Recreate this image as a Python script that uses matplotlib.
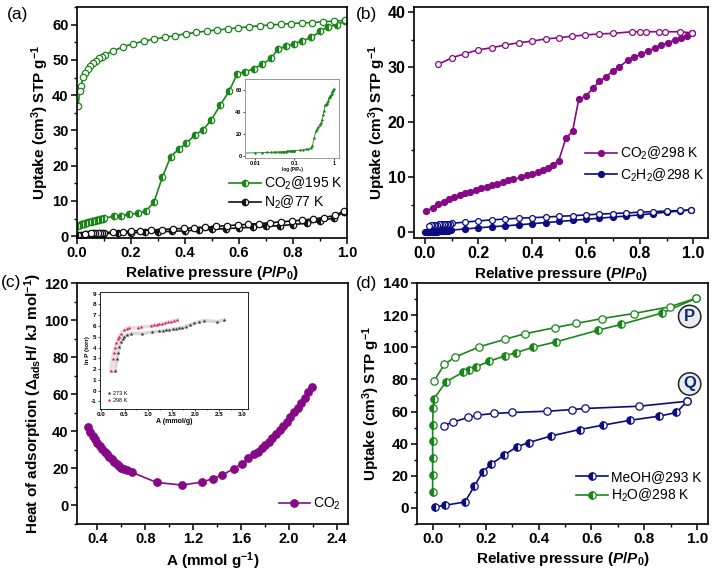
import matplotlib
matplotlib.use('Agg')
import matplotlib.pyplot as plt
from matplotlib.ticker import MultipleLocator

plt.rcParams['font.family'] = ['Liberation Sans', 'DejaVu Sans']
plt.rcParams['mathtext.fontset'] = 'custom'
plt.rcParams['mathtext.rm'] = 'Liberation Sans:bold'
plt.rcParams['mathtext.it'] = 'Liberation Sans:italic:bold'
plt.rcParams['mathtext.bf'] = 'Liberation Sans:bold'
plt.rcParams['mathtext.sf'] = 'Liberation Sans'

# ---------------- Panel (a) data ----------------
a_co2_ads_x = [0.005, 0.01, 0.015, 0.02, 0.025, 0.03, 0.035, 0.04, 0.045, 0.05, 0.055, 0.06, 0.065,
               0.07, 0.075, 0.08, 0.085, 0.09, 0.095, 0.1, 0.136, 0.163, 0.193, 0.225, 0.256, 0.285,
               0.316, 0.347, 0.379, 0.404, 0.438, 0.468, 0.498, 0.531, 0.563, 0.594, 0.623, 0.654,
               0.684, 0.719, 0.744, 0.774, 0.804, 0.835, 0.868, 0.901, 0.930, 0.963, 0.994]
a_co2_ads_y = [3.0, 3.2, 3.35, 3.5, 3.6, 3.7, 3.8, 3.9, 4.0, 4.1, 4.2, 4.3, 4.4, 4.5, 4.6, 4.7, 4.8,
               4.9, 5.0, 5.2, 5.6, 5.8, 6.2, 6.5, 7.2, 9.7, 16.7, 22.6, 24.8, 26.3, 28.8, 30.2, 33.1,
               37.2, 41.1, 46.1, 46.7, 47.4, 48.7, 50.4, 53.1, 53.8, 54.6, 55.4, 56.4, 58.1, 59.4,
               60.0, 61.0]
a_co2_des_x = [0.994, 0.951, 0.911, 0.872, 0.832, 0.793, 0.754, 0.715, 0.676, 0.637, 0.598, 0.559,
               0.520, 0.481, 0.442, 0.403, 0.364, 0.325, 0.286, 0.247, 0.208, 0.170, 0.135, 0.104,
               0.093, 0.081, 0.070, 0.059, 0.049, 0.040, 0.031, 0.022, 0.016, 0.010, 0.004]
a_co2_des_y = [61.2, 61.0, 60.8, 60.6, 60.5, 60.3, 60.1, 59.9, 59.7, 59.4, 59.1, 58.8, 58.5, 58.2,
               57.8, 57.4, 56.9, 56.4, 55.9, 55.3, 54.6, 53.7, 52.6, 51.4, 50.9, 50.4, 49.7, 49.1,
               48.3, 47.5, 46.4, 45.1, 42.7, 41.1, 36.9]
a_n2_ads_x = [0.005, 0.015, 0.025, 0.035, 0.045, 0.055, 0.065, 0.075, 0.085, 0.095, 0.15, 0.2, 0.25,
              0.3, 0.35, 0.4, 0.45, 0.5, 0.55, 0.6, 0.65, 0.7, 0.75, 0.8, 0.85, 0.9, 0.95, 0.99]
a_n2_ads_y = [0.3, 0.4, 0.45, 0.5, 0.55, 0.6, 0.62, 0.65, 0.7, 0.75, 0.9, 1.0, 1.1, 1.25, 1.4, 1.55,
              1.75, 1.95, 2.15, 2.35, 2.55, 2.8, 3.0, 3.3, 3.7, 4.2, 5.2, 6.8]
a_n2_des_x = [0.99, 0.955, 0.915, 0.875, 0.835, 0.795, 0.755, 0.715, 0.675, 0.635, 0.595, 0.555,
              0.515, 0.475, 0.435, 0.395, 0.355, 0.315, 0.275, 0.235, 0.2, 0.17, 0.135, 0.1, 0.092,
              0.084, 0.076, 0.068, 0.06, 0.052, 0.03]
a_n2_des_y = [7.2, 5.9, 5.3, 4.9, 4.6, 4.3, 4.1, 3.8, 3.6, 3.4, 3.2, 3.0, 2.8, 2.6, 2.4, 2.2, 2.1,
              1.9, 1.8, 1.6, 1.5, 1.3, 1.2, 1.0, 1.0, 1.0, 0.95, 0.95, 0.9, 0.85, 0.6]
a_xticks = [0.0, 0.2, 0.4, 0.6, 0.8, 1.0]
a_yticks = [0, 10, 20, 30, 40, 50, 60]

# ---------------- Panel (b) data ----------------
b_co2_ads_x = [0.006, 0.029, 0.05, 0.07, 0.09, 0.11, 0.13, 0.15, 0.17, 0.19, 0.21, 0.23, 0.25, 0.27,
               0.29, 0.31, 0.33, 0.36, 0.38, 0.40, 0.42, 0.44, 0.46, 0.476, 0.498, 0.525, 0.55,
               0.573, 0.60, 0.625, 0.65, 0.675, 0.70, 0.724, 0.755, 0.78, 0.805, 0.83, 0.855, 0.88,
               0.905, 0.93, 0.955, 0.975, 0.995]
b_co2_ads_y = [3.9, 4.5, 5.1, 5.6, 6.0, 6.4, 6.8, 7.1, 7.4, 7.7, 8.0, 8.3, 8.6, 8.9, 9.2, 9.5, 9.7,
               10.0, 10.4, 10.7, 11.0, 11.4, 11.7, 12.3, 13.0, 17.1, 18.4, 24.2, 24.8, 26.2, 27.5,
               28.3, 29.4, 30.1, 31.3, 31.9, 32.4, 33.0, 33.5, 34.0, 34.5, 35.0, 35.4, 35.8, 36.2]
b_co2_des_x = [0.051, 0.103, 0.149, 0.199, 0.25, 0.30, 0.35, 0.40, 0.45, 0.498, 0.548, 0.598,
               0.647, 0.70, 0.77, 0.80, 0.825, 0.87, 0.895, 0.95, 0.995]
b_co2_des_y = [30.6, 31.8, 32.5, 33.2, 33.6, 34.1, 34.5, 34.8, 35.2, 35.4, 35.7, 35.9, 36.1, 36.2,
               36.5, 36.5, 36.5, 36.5, 36.5, 36.5, 36.3]
b_c2h2_ads_x = [0.002, 0.008, 0.014, 0.02, 0.026, 0.032, 0.038, 0.044, 0.05, 0.056, 0.062, 0.068,
                0.074, 0.08, 0.086, 0.092, 0.098, 0.15, 0.2, 0.25, 0.3, 0.35, 0.4, 0.45, 0.5, 0.55,
                0.6, 0.65, 0.7, 0.75, 0.8, 0.85, 0.9, 0.95, 0.99]
b_c2h2_ads_y = [0.0, 0.02, 0.05, 0.08, 0.1, 0.12, 0.15, 0.17, 0.2, 0.22, 0.25, 0.27, 0.3, 0.32, 0.35,
                0.38, 0.42, 0.65, 0.85, 1.05, 1.2, 1.4, 1.6, 1.8, 2.0, 2.2, 2.4, 2.6, 2.8, 3.0, 3.2,
                3.45, 3.7, 3.9, 4.1]
b_c2h2_des_x = [0.99, 0.95, 0.9, 0.85, 0.8, 0.75, 0.7, 0.65, 0.6, 0.55, 0.5, 0.45, 0.4, 0.35, 0.3,
                0.25, 0.2, 0.15, 0.1, 0.094, 0.088, 0.082, 0.076, 0.07, 0.064, 0.058, 0.052,
                0.046, 0.04, 0.034, 0.028, 0.022, 0.016]
b_c2h2_des_y = [4.1, 4.0, 3.9, 3.8, 3.7, 3.55, 3.45, 3.35, 3.2, 3.05, 2.95, 2.8, 2.7, 2.6, 2.45,
                2.3, 2.1, 1.9, 1.65, 1.63, 1.6, 1.58, 1.56, 1.54, 1.52, 1.5, 1.48, 1.45, 1.42, 1.38,
                1.34, 1.28, 1.15]
b_xticks = [0.0, 0.2, 0.4, 0.6, 0.8, 1.0]
b_yticks = [0, 10, 20, 30, 40]

# ---------------- Panel (c) data ----------------
c_x = [0.32, 0.34, 0.36, 0.38, 0.40, 0.42, 0.44, 0.46, 0.48, 0.50, 0.52, 0.54, 0.56, 0.58, 0.60,
       0.62, 0.645, 0.687, 0.896, 1.105, 1.27, 1.36, 1.44, 1.536, 1.606, 1.66, 1.71, 1.74, 1.77,
       1.80, 1.83, 1.86, 1.89, 1.92, 1.95, 1.98, 2.01, 2.04, 2.07, 2.10, 2.13, 2.16, 2.19]
c_y = [42.4, 39.7, 37.5, 35.6, 33.8, 32.1, 30.5, 29.0, 27.5, 26.1, 24.8, 23.5, 22.3, 21.2, 20.2,
       19.5, 19.0, 17.9, 12.4, 11.0, 12.6, 14.4, 16.4, 19.8, 22.5, 25.4, 27.5, 29.1, 30.8, 32.6,
       34.4, 36.3, 38.3, 40.5, 42.8, 45.2, 47.6, 50.2, 52.8, 55.4, 58.0, 61.0, 64.0]
c_xticks = [0.4, 0.8, 1.2, 1.6, 2.0, 2.4]
c_yticks = [0, 20, 40, 60, 80, 100, 120]
ci_273_x = [0.30, 0.34, 0.36, 0.39, 0.42, 0.46, 0.49, 0.55, 0.64, 0.88, 1.09, 1.24, 1.31, 1.38,
            1.45, 1.52, 1.59, 1.66, 1.73, 1.80, 1.89, 1.98, 2.08, 2.19, 2.47, 2.61]
ci_273_y = [1.83, 2.94, 3.52, 4.06, 4.5, 4.8, 5.0, 5.15, 5.3, 5.3, 5.45, 5.5, 5.55, 5.6, 5.65,
            5.7, 5.73, 5.77, 5.85, 5.95, 6.1, 6.25, 6.38, 6.5, 6.4, 6.55]
ci_298_x = [0.21, 0.247, 0.27, 0.30, 0.33, 0.36, 0.39, 0.43, 0.49, 0.55, 0.60, 0.78, 0.85, 1.06,
            1.12, 1.18, 1.24, 1.30, 1.36, 1.42, 1.48, 1.54, 1.62]
ci_298_y = [1.83, 2.91, 3.52, 3.98, 4.4, 4.75, 5.0, 5.3, 5.6, 5.75, 5.83, 5.83, 5.9, 6.0, 6.05,
            6.1, 6.15, 6.2, 6.27, 6.33, 6.4, 6.47, 6.54]
ci_xticks = [0.0, 0.5, 1.0, 1.5, 2.0, 2.5, 3.0]
ci_yticks = [-1, 0, 1, 2, 3, 4, 5, 6, 7, 8, 9]

# ---------------- Panel (d) data ----------------
d_meoh_ads_x = [0.01, 0.048, 0.122, 0.158, 0.189, 0.221, 0.269, 0.318, 0.363, 0.448, 0.555, 0.643,
                0.747, 0.855, 0.921, 0.961]
d_meoh_ads_y = [0.6, 1.7, 3.7, 13.7, 22.4, 27.2, 32.8, 38.0, 40.7, 44.8, 48.8, 51.5, 54.6, 57.1,
                59.4, 66.4]
d_meoh_des_x = [0.961, 0.779, 0.574, 0.527, 0.433, 0.30, 0.231, 0.168, 0.134, 0.076, 0.044]
d_meoh_des_y = [66.4, 63.3, 61.9, 61.2, 60.2, 59.4, 58.8, 57.7, 56.3, 53.4, 51.3]
d_h2o_ads_x = [0.0, 0.0, 0.0, 0.0, 0.0, 0.002, 0.006, 0.05, 0.113, 0.139, 0.164, 0.214, 0.274,
               0.313, 0.378, 0.467, 0.624, 0.712, 0.868, 0.994]
d_h2o_ads_y = [10.0, 20.8, 31.3, 41.7, 51.7, 62.3, 68.1, 78.5, 84.3, 86.0, 87.8, 91.3, 94.7, 96.5,
               99.9, 103.4, 110.6, 114.2, 121.4, 130.4]
d_h2o_des_x = [0.994, 0.895, 0.759, 0.64, 0.542, 0.464, 0.348, 0.274, 0.177, 0.086, 0.044, 0.006]
d_h2o_des_y = [130.4, 125.2, 121.0, 117.9, 114.8, 112.3, 108.4, 105.0, 100.3, 94.0, 89.3, 79.1]
d_xticks = [0.0, 0.2, 0.4, 0.6, 0.8, 1.0]
d_yticks = [0, 20, 40, 60, 80, 100, 120, 140]

GREEN = '#1a861a'
PURPLE = '#860a86'
NAVY = '#0c0c80'
BLACK = '#111111'

W, H = 712, 574
fig = plt.figure(figsize=(W / 100, H / 100), dpi=100)


def rect(l, t, r, b):
    return [l / W, 1 - b / H, (r - l) / W, (b - t) / H]


LAB_FS = 11


def style(ax, xt, xfmt, yt, yfmt, xminor, yminor, fs=11):
    for s in ax.spines.values():
        s.set_linewidth(1.2)
    ax.set_xticks(xt)
    ax.set_xticklabels([xfmt.format(v) for v in xt], fontweight='bold', fontsize=fs)
    ax.set_yticks(yt)
    ax.set_yticklabels([yfmt.format(v) for v in yt], fontweight='bold', fontsize=fs)
    ax.xaxis.set_minor_locator(MultipleLocator(xminor))
    ax.yaxis.set_minor_locator(MultipleLocator(yminor))
    ax.tick_params(which='major', direction='out', length=4, width=1.1, pad=2)
    ax.tick_params(which='minor', direction='out', length=2.5, width=1.0)


XLAB = r'Relative pressure ($\mathit{P/P_0}$)'
YLAB = r'Uptake (cm$\mathregular{^3}$) STP g$\mathregular{^{-1}}$'

# ---------------- (a) ----------------
ax = fig.add_axes(rect(77, 7, 347, 238))
ax.plot(a_co2_ads_x, a_co2_ads_y, '-o', color=GREEN, lw=1.2, ms=4.6, fillstyle='left',
        markerfacecoloralt='white', mec=GREEN, mew=0.9, label=r'CO$\mathregular{_2}$@195 K')
ax.plot(a_co2_des_x, a_co2_des_y, '-o', color=GREEN, lw=1.2, ms=4.6, mfc='white', mec=GREEN, mew=0.9)
ax.plot(a_n2_ads_x, a_n2_ads_y, '-o', color=BLACK, lw=1.2, ms=4.6, fillstyle='left',
        markerfacecoloralt='white', mec=BLACK, mew=0.9, label=r'N$\mathregular{_2}$@77 K')
ax.plot(a_n2_des_x, a_n2_des_y, '-o', color=BLACK, lw=1.2, ms=4.6, mfc='white', mec=BLACK, mew=0.9)
ax.set_xlim(0, 1.0)
ax.set_ylim(-0.5, 65)
style(ax, a_xticks, '{:.1f}', a_yticks, '{:d}', 0.1, 5, fs=10.5)
ax.set_xlabel(XLAB, fontsize=LAB_FS, fontweight='bold', labelpad=3)
ax.set_ylabel(YLAB, fontsize=LAB_FS, fontweight='bold', labelpad=0.5)
ax.legend(loc='lower right', bbox_to_anchor=(1.01, 0.085), frameon=False, fontsize=10,
          handlelength=2.3, handletextpad=0.2, labelspacing=0.15, borderpad=0)
fig.text(7 / W, 1 - 15 / H, '(a)', fontsize=12.5, va='center', ha='left')

axi = fig.add_axes(rect(245, 79, 339, 158))
axi.plot(a_co2_ads_x, a_co2_ads_y, '-o', color=GREEN, lw=0.6, ms=1.8, mew=0)
axi.set_xscale('log')
axi.set_xlim(0.0056, 1.34)
axi.set_ylim(-1.5, 70)
axi.set_xticks([0.01, 0.1, 1])
axi.set_xticklabels(['0.01', '0.1', '1'], fontsize=4, fontweight='bold')
axi.set_yticks([0, 20, 40, 60])
axi.set_yticklabels(['0', '20', '40', '60'], fontsize=4, fontweight='bold')
axi.minorticks_off()
axi.tick_params(length=1.5, width=0.5, pad=1)
axi.set_xlabel('log (P/P₀)', fontsize=3.3, fontweight='bold')
axi.xaxis.set_label_coords(0.5, -0.115)
for s in axi.spines.values():
    s.set_linewidth(0.6)
    s.set_color('#888888')

# ---------------- (b) ----------------
ax = fig.add_axes(rect(414, 7, 708, 238))
ax.plot(b_co2_ads_x, b_co2_ads_y, '-o', color=PURPLE, lw=1.2, ms=4.2, mec=PURPLE,
        label=r'CO$\mathregular{_2}$@298 K')
ax.plot(b_co2_des_x, b_co2_des_y, '-o', color=PURPLE, lw=1.2, ms=4.2, mfc='white', mec=PURPLE, mew=0.9)
ax.plot(b_c2h2_ads_x, b_c2h2_ads_y, '-o', color=NAVY, lw=1.2, ms=4.2, mec=NAVY,
        label=r'C$\mathregular{_2}$H$\mathregular{_2}$@298 K')
ax.plot(b_c2h2_des_x, b_c2h2_des_y, '-o', color=NAVY, lw=1.2, ms=4.2, mfc='white', mec=NAVY, mew=0.9)
ax.set_xlim(-0.04, 1.054)
ax.set_ylim(-1, 41)
style(ax, b_xticks, '{:.1f}', b_yticks, '{:d}', 0.1, 5, fs=11.5)
ax.set_xlabel(XLAB, fontsize=LAB_FS, fontweight='bold', labelpad=3)
ax.set_ylabel(YLAB, fontsize=LAB_FS, fontweight='bold', labelpad=0)
ax.legend(loc='lower right', bbox_to_anchor=(1.01, 0.205), frameon=False, fontsize=10,
          handlelength=2.3, handletextpad=0.2, labelspacing=0.3, borderpad=0)
fig.text(356 / W, 1 - 15 / H, '(b)', fontsize=12.5, va='center', ha='left')

# ---------------- (c) ----------------
ax = fig.add_axes(rect(77, 283, 348, 524))
ax.plot(c_x, c_y, '-o', color=PURPLE, lw=1.2, ms=5.3, mec=PURPLE, label=r'CO$\mathregular{_2}$')
ax.set_xlim(0.23, 2.49)
ax.set_ylim(-10, 120)
style(ax, c_xticks, '{:.1f}', c_yticks, '{:d}', 0.2, 10, fs=10.5)
ax.set_xlabel(r'A (mmol g$\mathregular{^{-1}}$)', fontsize=LAB_FS, fontweight='bold', labelpad=3)
ax.set_ylabel(r'Heat of adsorption ($\Delta_{\mathregular{ads}}$H/ kJ mol$\mathregular{^{-1}}$)',
              fontsize=LAB_FS, fontweight='bold', labelpad=0)
ax.legend(loc='lower right', bbox_to_anchor=(1.0, 0.02), frameon=False, fontsize=10,
          handlelength=2.3, handletextpad=0.2, borderpad=0)
fig.text(1 / W, 1 - 282 / H, '(c)', fontsize=12.5, va='center', ha='left')

axi = fig.add_axes(rect(100, 292, 248, 409))
axi.plot(ci_273_x, ci_273_y, '-', color='#d8d8d8', lw=2.5, zorder=1)
axi.plot(ci_298_x, ci_298_y, '-', color='#f0d8e0', lw=2.5, zorder=1)
axi.plot(ci_273_x, ci_273_y, '*', color='#333333', ms=3, mew=0, label='273 K', zorder=3)
axi.plot(ci_298_x, ci_298_y, '*', color='#d0205a', ms=3, mew=0, label='298 K', zorder=3)
axi.set_xlim(-0.02, 3.12)
axi.set_ylim(-1.7, 9.15)
axi.set_xticks(ci_xticks)
axi.set_xticklabels(['{:.1f}'.format(v) for v in ci_xticks], fontsize=4.5, fontweight='bold')
axi.set_yticks(ci_yticks)
axi.set_yticklabels(['{:d}'.format(v) for v in ci_yticks], fontsize=4.5, fontweight='bold')
axi.xaxis.set_minor_locator(MultipleLocator(0.25))
axi.tick_params(which='major', length=1.5, width=0.5, pad=1)
axi.tick_params(which='minor', length=1, width=0.4)
axi.set_xlabel('A (mmol/g)', fontsize=5, fontweight='bold', labelpad=0.5)
axi.set_ylabel('ln P (torr)', fontsize=4.5, fontweight='bold', labelpad=0.5)
for s in axi.spines.values():
    s.set_linewidth(0.6)
axi.legend(loc='lower left', bbox_to_anchor=(0.02, 0.03), frameon=False, fontsize=4,
           handlelength=1, handletextpad=0.3, labelspacing=0.3, borderpad=0, markerscale=1)

# ---------------- (d) ----------------
ax = fig.add_axes(rect(417, 283, 708, 524))
ax.plot(d_meoh_ads_x, d_meoh_ads_y, '-o', color=NAVY, lw=1.2, ms=5.3, fillstyle='left',
        markerfacecoloralt='white', mec=NAVY, mew=0.9, label='MeOH@293 K')
ax.plot(d_meoh_des_x, d_meoh_des_y, '-o', color=NAVY, lw=1.2, ms=5.3, mfc='white', mec=NAVY, mew=0.9)
ax.plot(d_h2o_ads_x, d_h2o_ads_y, '-o', color=GREEN, lw=1.2, ms=5.3, fillstyle='left',
        markerfacecoloralt='white', mec=GREEN, mew=0.9, label=r'H$\mathregular{_2}$O@298 K')
ax.plot(d_h2o_des_x, d_h2o_des_y, '-o', color=GREEN, lw=1.2, ms=5.3, mfc='white', mec=GREEN, mew=0.9)
ax.set_xlim(-0.059, 1.04)
ax.set_ylim(-10, 140)
style(ax, d_xticks, '{:.1f}', d_yticks, '{:d}', 0.1, 10, fs=11)
ax.set_xlabel(XLAB, fontsize=LAB_FS, fontweight='bold', labelpad=3)
ax.set_ylabel(YLAB, fontsize=LAB_FS, fontweight='bold', labelpad=0.5)
ax.legend(loc='lower right', bbox_to_anchor=(1.0, 0.055), frameon=False, fontsize=10,
          handlelength=2.3, handletextpad=0.2, labelspacing=0.15, borderpad=0)
for lab, yy in (('P', 0.861), ('Q', 0.581)):
    ax.text(0.937, yy, lab, transform=ax.transAxes, ha='center', va='center', fontsize=12,
            fontweight='bold', color='#14286e',
            bbox=dict(boxstyle='circle,pad=0.22', fc='#e8edf3', ec='#222222', lw=1.1))
fig.text(356 / W, 1 - 284 / H, '(d)', fontsize=12.5, va='center', ha='left')

fig.savefig('out.png', dpi=100)
